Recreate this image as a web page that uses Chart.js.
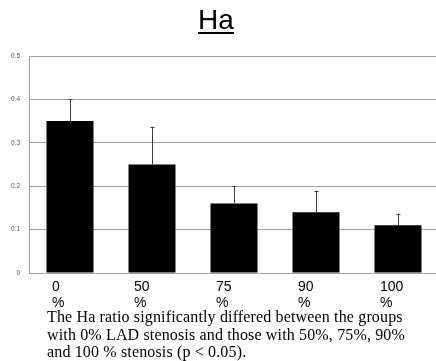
<!DOCTYPE html>
<html>
<head>
<meta charset="utf-8">
<script src="https://cdn.jsdelivr.net/npm/chart.js@4"></script>
<style>
    html, body { margin: 0; padding: 0; background: #fff; }
    #wrap { position: relative; width: 436px; height: 361px; overflow: hidden; }
    #chart-box { position: absolute; left: 0; top: 0; width: 439px; height: 361px; }
    #title {
        position: absolute; left: 0; width: 432px; top: 4px; text-align: center;
        font-family: "Liberation Sans", Arial, sans-serif; font-size: 28px; line-height: 32px;
        text-decoration: underline; text-decoration-thickness: 2px; text-underline-offset: 3px;
    }
    #caption {
        position: absolute; left: 47px; top: 308px; width: 390px;
        font-family: "Liberation Serif", "Times New Roman", serif; font-size: 16px; line-height: 17.5px;
        letter-spacing: 0.15px; color: #000; white-space: nowrap;
    }
</style>
</head>
<body>
<div id="wrap">
    <div id="chart-box"><canvas id="haChart" width="439" height="361"></canvas></div>
    <div id="title">Ha</div>
    <div id="caption">The Ha ratio significantly differed between the groups<br>with 0% LAD stenosis and those with 50%, 75%, 90%<br>and 100 % stenosis (p &lt; 0.05).</div>
</div>
<script>
const categories = ['0', '50', '75', '90', '100'];
const haRatio = [0.35, 0.25, 0.16, 0.14, 0.11];
const haError = [0.05, 0.087, 0.04, 0.05, 0.027];
const yTicks = [0, 0.1, 0.2, 0.3, 0.4, 0.5];

// upper error bars, drawn from the y scale
const errorBars = {
    id: 'errorBars',
    afterDatasetsDraw(chart) {
        const ctx = chart.ctx;
        const y = chart.scales.y;
        const meta = chart.getDatasetMeta(0);
        ctx.save();
        ctx.strokeStyle = '#3a3a3a';
        ctx.lineWidth = 1;
        meta.data.forEach((bar, i) => {
            const x = Math.round(bar.x) + 0.5;
            const top = y.getPixelForValue(haRatio[i] + haError[i]);
            const base = y.getPixelForValue(haRatio[i]);
            ctx.beginPath();
            ctx.moveTo(x, base);
            ctx.lineTo(x, top);
            ctx.moveTo(x - 2, Math.round(top) + 0.5);
            ctx.lineTo(x + 2, Math.round(top) + 0.5);
            ctx.stroke();
        });
        ctx.restore();
    }
};

new Chart(document.getElementById('haChart'), {
    type: 'bar',
    data: {
        labels: categories.map(c => [c, '%']),
        datasets: [{
            data: haRatio,
            backgroundColor: '#000',
            borderWidth: 0,
            categoryPercentage: 1,
            barPercentage: 0.573
        }]
    },
    options: {
        responsive: false,
        animation: false,
        layout: { padding: { top: 56, left: 0, right: 0, bottom: 0 } },
        plugins: { legend: { display: false }, tooltip: { enabled: false } },
        scales: {
            x: {
                grid: { display: false, drawTicks: false },
                border: { color: '#a0a0a0' },
                ticks: {
                    color: '#000',
                    align: 'start',
                    labelOffset: -18,
                    padding: 6,
                    maxRotation: 0,
                    autoSkip: false,
                    font: { family: 'Liberation Sans', size: 14, lineHeight: 1.15 }
                },
                afterFit(scale) { scale.height = 88; }
            },
            y: {
                min: 0,
                max: 0.5,
                afterBuildTicks(scale) { scale.ticks = yTicks.map(v => ({ value: v })); },
                grid: { color: '#a0a0a0', drawTicks: false },
                border: { color: '#a0a0a0' },
                ticks: {
                    color: '#555',
                    padding: 9,
                    font: { family: 'Liberation Sans', size: 6.5 }
                },
                afterFit(scale) { scale.width = 29; }
            }
        }
    },
    plugins: [errorBars]
});
</script>
</body>
</html>
